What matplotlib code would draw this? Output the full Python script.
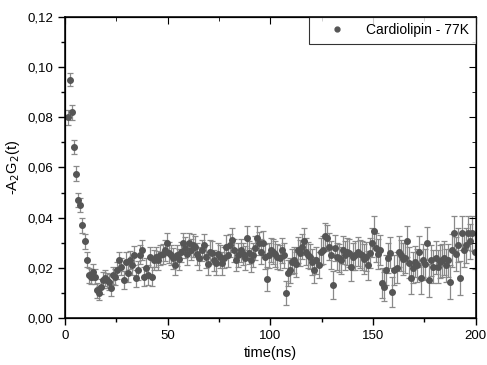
import numpy as np
import matplotlib.pyplot as plt
from matplotlib.lines import Line2D
from matplotlib.ticker import MultipleLocator, FuncFormatter

# time grid (ns) - one point every ns
t_start = 1.5
t_step = 1.0

# -A2G2(t) values
signal = [
    0.0800, 0.0950, 0.0820, 0.0680, 0.0575, 0.0470, 0.0450, 0.0370, 0.0305, 0.0232,
    0.0170, 0.0165, 0.0185, 0.0165, 0.0110, 0.0098, 0.0125, 0.0150, 0.0158, 0.0150,
    0.0145, 0.0118, 0.0170, 0.0165, 0.0190, 0.0230, 0.0205, 0.0152, 0.0225, 0.0180,
    0.0232, 0.0210, 0.0250, 0.0158, 0.0190, 0.0252, 0.0270, 0.0165, 0.0200, 0.0172,
    0.0245, 0.0165, 0.0230, 0.0245, 0.0230, 0.0250, 0.0255, 0.0270, 0.0298, 0.0260,
    0.0250, 0.0238, 0.0212, 0.0250, 0.0235, 0.0262, 0.0298, 0.0280, 0.0255, 0.0298,
    0.0272, 0.0290, 0.0285, 0.0255, 0.0238, 0.0270, 0.0290, 0.0245, 0.0215, 0.0265,
    0.0260, 0.0231, 0.0218, 0.0255, 0.0245, 0.0218, 0.0240, 0.0285, 0.0250, 0.0290,
    0.0310, 0.0270, 0.0231, 0.0250, 0.0270, 0.0255, 0.0238, 0.0318, 0.0260, 0.0231,
    0.0250, 0.0280, 0.0318, 0.0298, 0.0265, 0.0298, 0.0245, 0.0155, 0.0250, 0.0270,
    0.0265, 0.0255, 0.0245, 0.0240, 0.0270, 0.0250, 0.0098, 0.0180, 0.0190, 0.0225,
    0.0230, 0.0215, 0.0270, 0.0260, 0.0285, 0.0305, 0.0265, 0.0250, 0.0245, 0.0225,
    0.0190, 0.0230, 0.0210, 0.0265, 0.0270, 0.0325, 0.0320, 0.0285, 0.0250, 0.0132,
    0.0280, 0.0245, 0.0240, 0.0230, 0.0270, 0.0250, 0.0265, 0.0260, 0.0205, 0.0245,
    0.0250, 0.0265, 0.0255, 0.0250, 0.0235, 0.0245, 0.0210, 0.0260, 0.0300, 0.0345,
    0.0280, 0.0255, 0.0270, 0.0138, 0.0125, 0.0190, 0.0238, 0.0260, 0.0105, 0.0190,
    0.0200, 0.0265, 0.0250, 0.0235, 0.0240, 0.0305, 0.0220, 0.0158, 0.0200, 0.0225,
    0.0210, 0.0265, 0.0158, 0.0230, 0.0215, 0.0298, 0.0150, 0.0230, 0.0205, 0.0240,
    0.0205, 0.0225, 0.0230, 0.0240, 0.0210, 0.0230, 0.0145, 0.0270, 0.0338, 0.0255,
    0.0290, 0.0158, 0.0338, 0.0270, 0.0290, 0.0338, 0.0305, 0.0338, 0.0265,
]

# error bar half-widths
errors = [
    0.0030, 0.0025, 0.0030, 0.0028, 0.0030, 0.0028, 0.0028, 0.0030, 0.0030, 0.0030,
    0.0030, 0.0030, 0.0032, 0.0030, 0.0030, 0.0028, 0.0030, 0.0032, 0.0032, 0.0030,
    0.0032, 0.0030, 0.0035, 0.0032, 0.0035, 0.0035, 0.0035, 0.0035, 0.0038, 0.0035,
    0.0035, 0.0038, 0.0038, 0.0035, 0.0038, 0.0038, 0.0040, 0.0038, 0.0038, 0.0040,
    0.0040, 0.0038, 0.0040, 0.0040, 0.0038, 0.0040, 0.0040, 0.0042, 0.0040, 0.0042,
    0.0040, 0.0042, 0.0040, 0.0042, 0.0042, 0.0040, 0.0042, 0.0042, 0.0042, 0.0040,
    0.0042, 0.0045, 0.0042, 0.0042, 0.0045, 0.0042, 0.0045, 0.0045, 0.0042, 0.0045,
    0.0045, 0.0042, 0.0045, 0.0045, 0.0045, 0.0045, 0.0042, 0.0045, 0.0045, 0.0045,
    0.0048, 0.0045, 0.0045, 0.0048, 0.0045, 0.0045, 0.0048, 0.0048, 0.0045, 0.0048,
    0.0048, 0.0048, 0.0048, 0.0045, 0.0048, 0.0048, 0.0048, 0.0048, 0.0050, 0.0048,
    0.0050, 0.0050, 0.0048, 0.0050, 0.0050, 0.0050, 0.0048, 0.0052, 0.0050, 0.0050,
    0.0052, 0.0050, 0.0052, 0.0052, 0.0050, 0.0052, 0.0052, 0.0052, 0.0050, 0.0052,
    0.0052, 0.0055, 0.0052, 0.0052, 0.0055, 0.0055, 0.0052, 0.0055, 0.0055, 0.0055,
    0.0052, 0.0055, 0.0055, 0.0055, 0.0055, 0.0058, 0.0055, 0.0055, 0.0058, 0.0055,
    0.0058, 0.0058, 0.0055, 0.0058, 0.0058, 0.0058, 0.0058, 0.0060, 0.0058, 0.0060,
    0.0058, 0.0060, 0.0060, 0.0060, 0.0058, 0.0060, 0.0060, 0.0062, 0.0060, 0.0060,
    0.0062, 0.0060, 0.0062, 0.0062, 0.0060, 0.0062, 0.0062, 0.0062, 0.0062, 0.0062,
    0.0065, 0.0062, 0.0062, 0.0065, 0.0062, 0.0065, 0.0065, 0.0062, 0.0065, 0.0065,
    0.0065, 0.0065, 0.0065, 0.0068, 0.0065, 0.0065, 0.0068, 0.0065, 0.0068, 0.0068,
    0.0068, 0.0068, 0.0068, 0.0068, 0.0070, 0.0068, 0.0070, 0.0070, 0.0068,
]

label = 'Cardiolipin - 77K'

t = t_start + t_step * np.arange(len(signal))

plt.rcParams['font.family'] = ['Liberation Sans', 'DejaVu Sans']

fig = plt.figure(figsize=(4.87, 3.65), dpi=100)
ax = fig.add_axes([0.1335, 0.1288, 0.843, 0.8246])

ax.errorbar(t, signal, yerr=errors, fmt='o', color='#555555', markersize=4.0,
            ecolor='#8a8a8a', elinewidth=0.9, capsize=2.4, capthick=0.9)

ax.set_xlim(0, 200)
ax.set_ylim(0, 0.12)
ax.xaxis.set_major_locator(MultipleLocator(50))
ax.xaxis.set_minor_locator(MultipleLocator(25))
ax.yaxis.set_major_locator(MultipleLocator(0.02))
ax.yaxis.set_minor_locator(MultipleLocator(0.01))
ax.yaxis.set_major_formatter(FuncFormatter(lambda v, p: ('%.2f' % v).replace('.', ',')))

ax.tick_params(which='both', direction='out', top=False, right=False, labelsize=9.5)
ax.tick_params(which='major', length=5, width=1)
ax.tick_params(which='minor', length=3, width=1)
for s in ax.spines.values():
    s.set_linewidth(1.1)

# inward ticks on top and right
ax2 = ax.twinx()
ax2.set_ylim(0, 0.12)
ax2.yaxis.set_major_locator(MultipleLocator(0.02))
ax2.yaxis.set_minor_locator(MultipleLocator(0.01))
ax2.tick_params(which='both', direction='in', labelright=False)
ax2.tick_params(which='major', length=5)
ax2.tick_params(which='minor', length=3)
ax3 = ax.twiny()
ax3.set_xlim(0, 200)
ax3.xaxis.set_major_locator(MultipleLocator(50))
ax3.xaxis.set_minor_locator(MultipleLocator(25))
ax3.tick_params(which='both', direction='in', labeltop=False)
ax3.tick_params(which='major', length=5)
ax3.tick_params(which='minor', length=3)

ax.set_xlabel('time(ns)', fontsize=10.5, labelpad=3)
ax.set_ylabel('-A$_2$G$_2$(t)', fontsize=10.5, labelpad=4)

# legend shows only the dot
handle = Line2D([], [], linestyle='none', marker='o', color='#555555', markersize=3.5)
leg = ax3.legend([handle], [label], loc='upper right', fontsize=10, frameon=True,
                 fancybox=False, borderaxespad=0, handletextpad=0.5, borderpad=0.45,
                 handlelength=3.2)
leg.get_frame().set_edgecolor('black')
leg.get_frame().set_linewidth(0.8)

fig.savefig('out.png', dpi=100)
